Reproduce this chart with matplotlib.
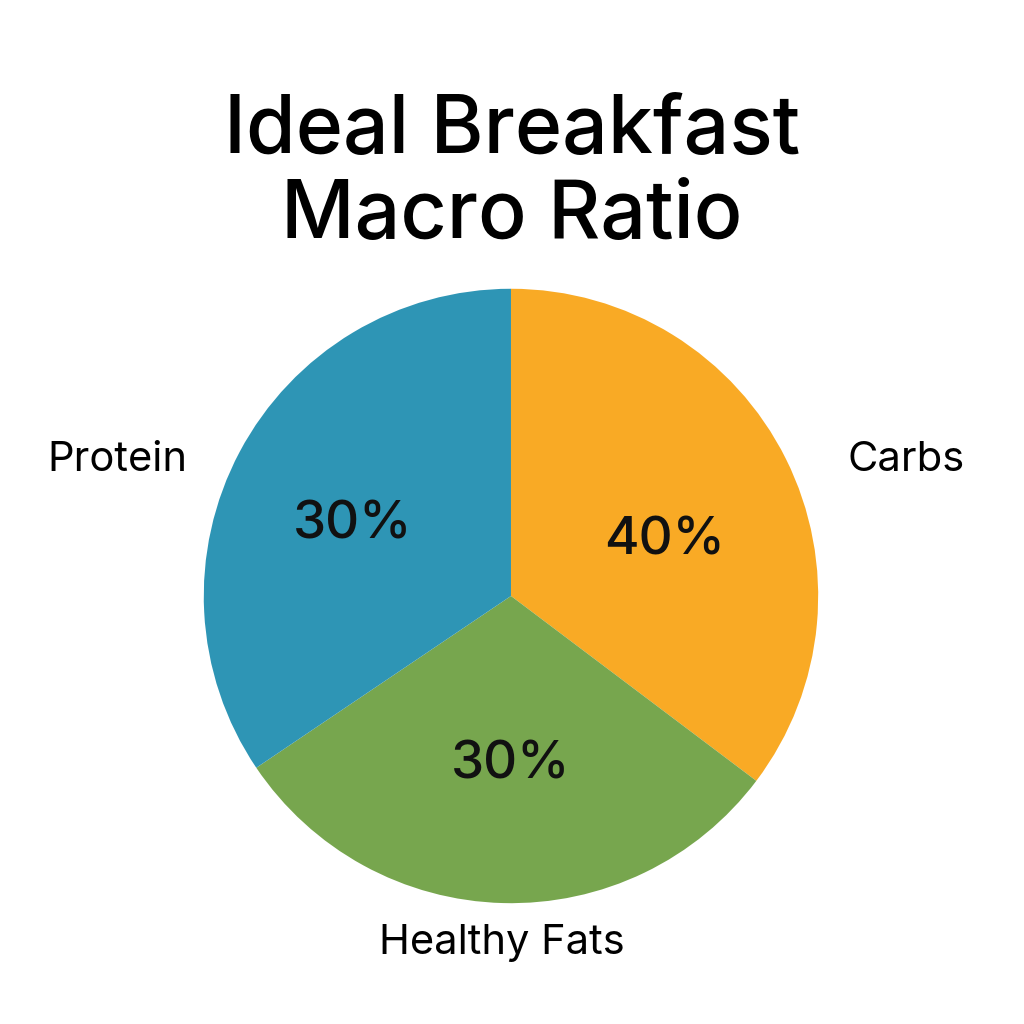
import matplotlib.pyplot as plt

# wedge angles (degrees), labels as printed
categories = ["Carbs", "Healthy Fats", "Protein"]
wedge_deg = [127, 109, 124]
pct_labels = ["40%", "30%", "30%"]
colors = ["#F9AA25", "#77A64E", "#2E95B5"]

plt.rcParams['font.family'] = ['Inter', 'DejaVu Sans']

fig = plt.figure(figsize=(10.24, 10.24), dpi=100)
fig.text(0.5, 0.83, "Ideal Breakfast\nMacro Ratio", ha="center", va="center",
         fontsize=58, fontweight="medium", linespacing=1.15)

ax = fig.add_axes([0.199, 0.118, 0.6, 0.6])
ax.pie(wedge_deg, colors=colors, startangle=90, counterclock=False, radius=1)
ax.set_xlim(-1, 1)
ax.set_ylim(-1, 1)
ax.set_aspect("equal")

name_pos = {"Carbs": (1.287, 0.443), "Healthy Fats": (-0.03, -1.13), "Protein": (-1.28, 0.443)}
pct_pos = [(0.50, 0.18), (0.0, -0.55), (-0.515, 0.231)]
for name, p, pp in zip(categories, pct_labels, pct_pos):
    ax.text(*name_pos[name], name, ha="center", va="center", fontsize=30, clip_on=False)
    ax.text(*pp, p, ha="center", va="center", fontsize=38, fontweight="medium", color="#111111")

fig.savefig("out.png", dpi=100, facecolor="white")
